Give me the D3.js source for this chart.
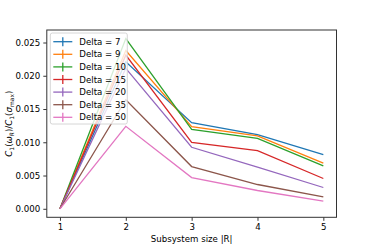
<!DOCTYPE html>
<html>
<head>
<meta charset="utf-8">
<script src="https://cdn.jsdelivr.net/npm/d3@7"></script>
<style>
  body { margin: 0; background: #fff; }
  svg { font-family: "DejaVu Sans", sans-serif; }
</style>
</head>
<body>
<script>
// data //
const sizes = [1, 2, 3, 4, 5];
const deltas = [7, 9, 10, 15, 20, 35, 50];
const delta7  = [0, 0.0221, 0.01295, 0.01115, 0.00815];
const delta9  = [0, 0.0238, 0.01235, 0.01095, 0.00685];
const delta10 = [0, 0.0256, 0.01195, 0.01060, 0.00645];
const delta15 = [0, 0.0231, 0.01000, 0.00875, 0.00455];
const delta20 = [0, 0.0211, 0.00925, 0.00625, 0.00320];
const delta35 = [0, 0.0164, 0.00635, 0.00365, 0.00180];
const delta50 = [0, 0.0124, 0.00470, 0.00275, 0.00115];
const yTicks = [0.000, 0.005, 0.010, 0.015, 0.020, 0.025];
const colors = ['#1f77b4', '#ff7f0e', '#2ca02c', '#d62728', '#9467bd', '#8c564b', '#e377c2'];

const allSeries = [delta7, delta9, delta10, delta15, delta20, delta35, delta50];
const series = deltas.map((d, i) => ({
  label: 'Delta = ' + d,
  color: colors[i],
  values: sizes.map((s, j) => ({ size: s, value: allSeries[i][j] }))
}));

// set margins //
const W = 374, H = 249;
const margin = { top: 30, right: 37.5, bottom: 31.7, left: 46.8 };
const width = W - margin.left - margin.right;
const height = H - margin.top - margin.bottom;

const svg = d3.select('body').append('svg')
  .attr('width', W)
  .attr('height', H);

const g = svg.append('g')
  .attr('transform', 'translate(' + margin.left + ',' + margin.top + ')');

// scales with matplotlib style 5% padding //
const xPad = (5 - 1) * 0.05;
const x = d3.scaleLinear().domain([1 - xPad, 5 + xPad]).range([0, width]);
const yMax = 0.0256;
const y = d3.scaleLinear().domain([-yMax * 0.05, yMax * 1.05]).range([height, 0]);

const fs = 8.65;

// x axis //
const xAxis = g.append('g')
  .attr('transform', 'translate(0,' + height + ')')
  .call(d3.axisBottom(x).tickValues(sizes).tickFormat(d3.format('d')).tickSizeOuter(0).tickSize(3.5).tickPadding(3));
xAxis.select('.domain').remove();
xAxis.selectAll('text').attr('font-size', fs).attr('fill', '#000').attr('font-family', 'DejaVu Sans');
xAxis.selectAll('line').attr('stroke', '#000').attr('stroke-width', 0.8);

// y axis //
const yAxis = g.append('g')
  .call(d3.axisLeft(y).tickValues(yTicks).tickFormat(d3.format('.3f')).tickSizeOuter(0).tickSize(3.5).tickPadding(3));
yAxis.select('.domain').remove();
yAxis.selectAll('text').attr('font-size', fs).attr('fill', '#000').attr('font-family', 'DejaVu Sans');
yAxis.selectAll('line').attr('stroke', '#000').attr('stroke-width', 0.8);

// lines //
const line = d3.line()
  .x(d => x(d.size))
  .y(d => y(d.value));

series.forEach(s => {
  g.append('path')
    .datum(s.values)
    .attr('fill', 'none')
    .attr('stroke', s.color)
    .attr('stroke-width', 1.3)
    .attr('d', line);
});

// frame //
g.append('rect')
  .attr('width', width)
  .attr('height', height)
  .attr('fill', 'none')
  .attr('stroke', '#333')
  .attr('stroke-width', 1);

// legend //
const legend = g.append('g').attr('transform', 'translate(3.5,3)');
const rowH = 12.6;
legend.append('rect')
  .attr('width', 77)
  .attr('height', 91)
  .attr('rx', 2)
  .attr('fill', '#fff')
  .attr('fill-opacity', 0.8)
  .attr('stroke', '#ccc')
  .attr('stroke-width', 0.8);

series.forEach((s, i) => {
  const row = legend.append('g').attr('transform', 'translate(0,' + (8.7 + i * rowH) + ')');
  row.append('line')
    .attr('x1', 3).attr('x2', 22)
    .attr('stroke', s.color).attr('stroke-width', 1.3);
  row.append('line')
    .attr('x1', 12.5).attr('x2', 12.5).attr('y1', -4.5).attr('y2', 4.5)
    .attr('stroke', s.color).attr('stroke-width', 1.3);
  row.append('text')
    .attr('x', 29)
    .attr('y', 3.1)
    .attr('font-size', fs)
    .text(s.label);
});

// axis labels //
svg.append('text')
  .attr('x', margin.left + width / 2)
  .attr('y', 242)
  .attr('text-anchor', 'middle')
  .attr('font-size', fs)
  .text('Subsystem size |R|');

const yl = svg.append('text')
  .attr('transform', 'translate(12,' + (margin.top + height / 2) + ') rotate(-90)')
  .attr('text-anchor', 'middle')
  .attr('font-size', fs);
yl.append('tspan').attr('font-style', 'italic').text('C');
yl.append('tspan').attr('font-size', 6).attr('dy', 2).text('1');
yl.append('tspan').attr('dy', -2).text('(');
yl.append('tspan').attr('font-style', 'italic').text('ω');
yl.append('tspan').attr('font-size', 6).attr('font-style', 'italic').attr('dy', 2).text('R');
yl.append('tspan').attr('dy', -2).text(')/');
yl.append('tspan').attr('font-style', 'italic').text('C');
yl.append('tspan').attr('font-size', 6).attr('dy', 2).text('1');
yl.append('tspan').attr('dy', -2).text('(');
yl.append('tspan').attr('font-style', 'italic').text('σ');
yl.append('tspan').attr('font-size', 6).attr('dy', 2).text('max');
yl.append('tspan').attr('dy', -2).text(')');
</script>
</body>
</html>
